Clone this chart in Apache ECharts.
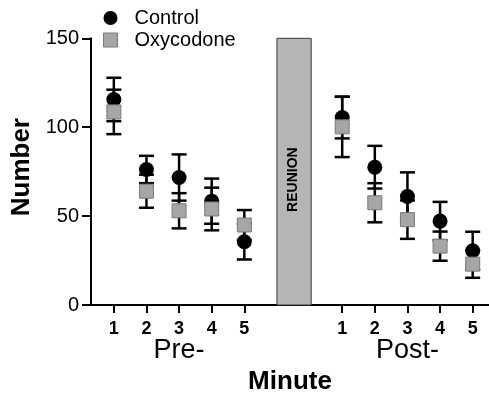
<!DOCTYPE html>
<html><head><meta charset="utf-8">
<script src="https://cdn.jsdelivr.net/npm/echarts@6/dist/echarts.min.js"></script>
<style>html,body{margin:0;padding:0;background:#fff}#c{width:489px;height:393px}</style>
</head><body><div id="c"></div>
<script>
const minuteLabels = ['1', '2', '3', '4', '5'];
const preX = [1, 2, 3, 4, 5];
const postX = [8, 9, 10, 11, 12];
const phaseNames = ['Pre-', 'Post-'];
const phaseCenters = [3, 10];
const reunionSpan = [6, 7.05];
const reunionTop = 150;
const reunionText = 'REUNION';
const controlPre = [115.6, 76.2, 71.7, 58.4, 35.6];
const controlPreErr = [12.2, 7.7, 13, 12.7, 10];
const oxyPre = [108.6, 64, 53, 54, 45];
const oxyPreErr = [12.5, 9.3, 9.9, 12, 8.4];
const controlPost = [105.4, 77.5, 61, 47.2, 30.5];
const controlPostErr = [11.7, 12, 13.6, 10.8, 10.7];
const oxyPost = [100.2, 57.5, 48, 33.1, 23];
const oxyPostErr = [17, 11, 10.8, 8.2, 7.7];
const yTicks = [0, 50, 100, 150];

const FONT = '"Liberation Sans", Arial, Helvetica, sans-serif';
const allX = preX.concat(postX);
function build(pre, post, preErr, postErr) {
  return preX.map((x, i) => [x, pre[i], preErr[i]])
    .concat(postX.map((x, i) => [x, post[i], postErr[i]]));
}
const controlData = build(controlPre, controlPost, controlPreErr, controlPostErr);
const oxyData = build(oxyPre, oxyPost, oxyPreErr, oxyPostErr);

function errItem(params, api) {
  const x = api.value(0), m = api.value(1), e = api.value(2);
  const top = api.coord([x, m + e]), bot = api.coord([x, m - e]);
  const hw = 7.5;
  const style = { stroke: '#000', lineWidth: 2.5 };
  return { type: 'group', children: [
    { type: 'line', shape: { x1: top[0], y1: top[1], x2: bot[0], y2: bot[1] }, style },
    { type: 'line', shape: { x1: top[0] - hw, y1: top[1], x2: top[0] + hw, y2: top[1] }, style },
    { type: 'line', shape: { x1: bot[0] - hw, y1: bot[1], x2: bot[0] + hw, y2: bot[1] }, style }
  ]};
}
function reunionItem(params, api) {
  const p0 = api.coord([api.value(0), api.value(2)]);
  const p1 = api.coord([api.value(1), 0]);
  const cx = (p0[0] + p1[0]) / 2, cy = (p0[1] + p1[1]) / 2;
  return { type: 'group', children: [
    { type: 'rect', shape: { x: p0[0], y: p0[1], width: p1[0] - p0[0], height: p1[1] - p0[1] },
      style: { fill: '#b5b5b5', stroke: '#3a3a3a', lineWidth: 1 } },
    { type: 'text', x: cx - 1, y: cy + 8, rotation: Math.PI / 2,
      style: { text: reunionText, fontSize: 14, fontWeight: 'bold', fontFamily: FONT, fill: '#000', align: 'center', verticalAlign: 'middle' } }
  ]};
}

const chart = echarts.init(document.getElementById('c'));
chart.setOption({
  animation: false,
  backgroundColor: '#fff',
  grid: { left: 91, right: 0, top: 38.3, bottom: 88, outerBoundsMode: 'none', containLabel: false },
  legend: {
    left: 98, top: 3, orient: 'vertical', itemGap: 2, itemWidth: 14, itemHeight: 14,
    textStyle: { fontSize: 20, fontFamily: FONT, color: '#000', padding: [0, 0, 0, 12] },
    data: [
      { name: 'Control', icon: 'circle', itemStyle: { color: '#000' } },
      { name: 'Oxycodone', icon: 'rect', itemStyle: { color: '#a6a6a6', borderColor: '#7a7a7a', borderWidth: 1 } }
    ]
  },
  xAxis: {
    type: 'value', min: 0.3, max: 12.5,
    name: 'Minute', nameLocation: 'middle', nameGap: 64,
    nameTextStyle: { fontSize: 26, fontWeight: 'bold', fontFamily: FONT, color: '#000' },
    axisLine: { lineStyle: { color: '#000', width: 2 } },
    axisTick: { show: true, length: 8, lineStyle: { color: '#000', width: 2 }, customValues: allX },
    axisLabel: { customValues: allX, margin: 15, fontSize: 18, fontWeight: 'bold', fontFamily: FONT, color: '#000',
      formatter: v => { const i = preX.indexOf(v); const j = postX.indexOf(v); return i >= 0 ? minuteLabels[i] : (j >= 0 ? minuteLabels[j] : ''); } },
    splitLine: { show: false }
  },
  yAxis: {
    type: 'value', min: 0, max: 150, interval: 50,
    name: 'Number', nameLocation: 'middle', nameGap: 56,
    nameTextStyle: { fontSize: 26, fontWeight: 'bold', fontFamily: FONT, color: '#000', padding: [0, 0, 0, 9] },
    axisLine: { show: true, lineStyle: { color: '#000', width: 2 } },
    axisTick: { show: true, length: 9, lineStyle: { color: '#000', width: 2 } },
    axisLabel: { margin: 12, fontSize: 20, fontFamily: FONT, color: '#000',
      formatter: v => yTicks.includes(v) ? String(v) : '' },
    splitLine: { show: false }
  },
  series: [
    { type: 'custom', name: 'reunion', renderItem: reunionItem, data: [[reunionSpan[0], reunionSpan[1], reunionTop]], z: 1, silent: true },
    { type: 'custom', name: 'ctlErr', renderItem: errItem, data: controlData, z: 2 },
    { type: 'custom', name: 'oxyErr', renderItem: errItem, data: oxyData, z: 2 },
    { type: 'scatter', name: 'Control', symbol: 'circle', symbolSize: 15, data: controlData.map(d => [d[0], d[1]]),
      itemStyle: { color: '#000', opacity: 1 }, z: 3 },
    { type: 'scatter', name: 'Oxycodone', symbol: 'rect', symbolSize: 14, data: oxyData.map(d => [d[0], d[1]]),
      itemStyle: { color: '#a6a6a6', borderColor: '#7a7a7a', borderWidth: 1, opacity: 1 }, z: 4 }
  ]
});
const yPix = 351;
chart.setOption({
  graphic: phaseNames.map((t, i) => ({
    type: 'text', x: chart.convertToPixel({ xAxisIndex: 0 }, phaseCenters[i]), y: yPix,
    style: { text: t, fontSize: 27, fontFamily: FONT, fill: '#000', align: 'center', verticalAlign: 'middle' }
  }))
});
</script></body></html>
